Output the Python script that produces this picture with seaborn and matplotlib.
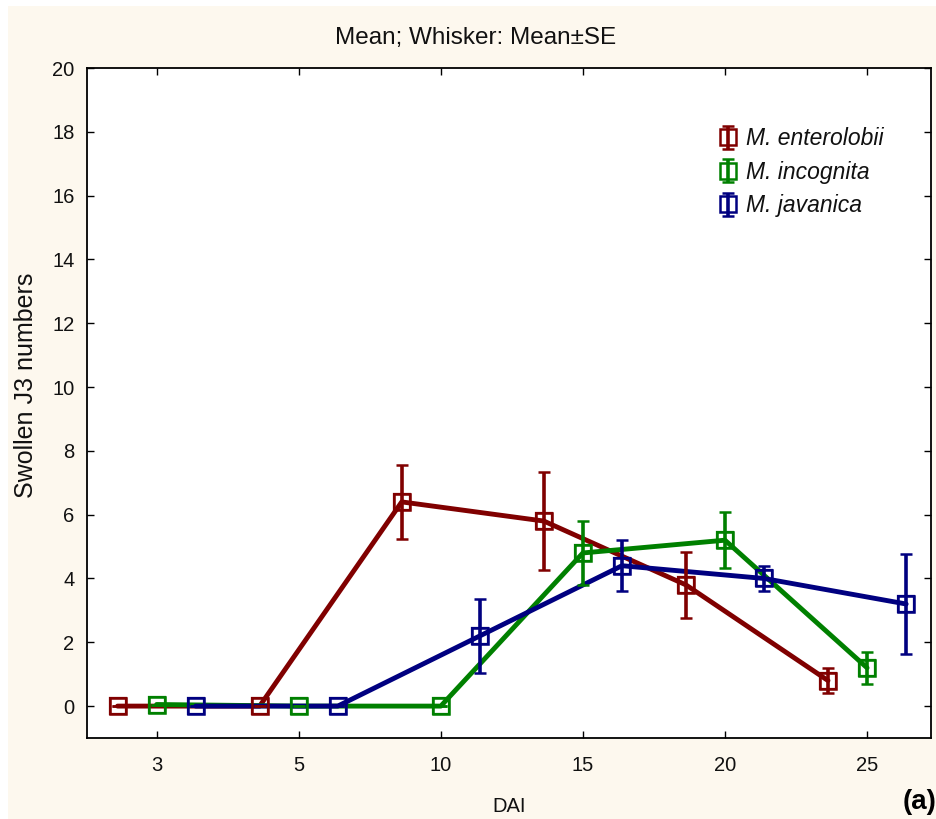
import numpy as np
import pandas as pd
import matplotlib
matplotlib.use("Agg")
import matplotlib.pyplot as plt
from matplotlib.patches import Rectangle
import seaborn as sns

# Days after inoculation (categorical x) and species
dai = ["3", "5", "10", "15", "20", "25"]
species = ["M. enterolobii", "M. incognita", "M. javanica"]

# Mean swollen J3 counts per species
mean_enterolobii = [0.0, 0.0, 6.4, 5.8, 3.8, 0.8]
mean_incognita = [0.05, 0.0, 0.0, 4.8, 5.2, 1.2]
mean_javanica = [0.0, 0.0, 2.2, 4.4, 4.0, 3.2]

# Standard errors per species
se_enterolobii = [0.0, 0.0, 1.17, 1.53, 1.03, 0.4]
se_incognita = [0.0, 0.0, 0.0, 1.0, 0.87, 0.5]
se_javanica = [0.0, 0.0, 1.17, 0.8, 0.4, 1.58]

colors = ["#800000", "#008000", "#000080"]

means = [mean_enterolobii, mean_incognita, mean_javanica]
ses = [se_enterolobii, se_incognita, se_javanica]
df = pd.DataFrame({
    "DAI": np.tile(dai, len(species)),
    "species": np.repeat(species, len(dai)),
    "mean": np.concatenate(means),
    "se": np.concatenate(ses),
})

sns.set_theme(style="white")
plt.rcParams["font.family"] = ["Liberation Sans", "DejaVu Sans"]

fig = plt.figure(figsize=(9.37, 8.19), dpi=100)
fig.patch.set_facecolor("white")
fig.add_artist(Rectangle((8 / 937, 0), 1, 1 - 6 / 819, transform=fig.transFigure,
                         facecolor="#fdf8ee", edgecolor="none", zorder=-10))

ax = fig.add_axes([87 / 937, 1 - 738 / 819, (931 - 87) / 937, (738 - 68) / 819])
ax.set_facecolor("white")

sns.pointplot(data=df, x="DAI", y="mean", hue="species", order=dai,
              hue_order=species, palette=colors, dodge=0.55, errorbar=None,
              markers="s", linestyles="-", legend=False, ax=ax,
              markerfacecolor="none", markersize=11.5, markeredgewidth=1.6,
              linewidth=3.5)

# whiskers at the same dodged positions as the point markers
for line, name, color, se in zip(ax.lines[:3], species, colors, ses):
    x, y = line.get_xdata(), line.get_ydata()
    ax.errorbar(x, y, yerr=se, fmt="s", mfc="none", mec=color, mew=1.8,
                ms=11.5, ecolor=color, elinewidth=2.6, capsize=4, capthick=2.6,
                label=name, zorder=line.get_zorder())

ax.set_xlim(-0.49, 5.45)
ax.set_ylim(-1, 20)
ax.set_yticks(np.arange(0, 21, 2))

for s in ax.spines.values():
    s.set_color("black")
    s.set_linewidth(1.3)
ax.tick_params(direction="in", length=5, width=1, color="black",
               top=True, right=True, left=True, bottom=True,
               labelsize=14.5, labelcolor="#111111")
ax.tick_params(axis="x", pad=13)
ax.tick_params(axis="y", pad=9)

ax.set_xlabel("DAI", fontsize=14.5, color="#111111")
ax.xaxis.set_label_coords(0.5, -(807 - 738) / (738 - 68))
ax.xaxis.label.set_va("center")
ax.set_ylabel("Swollen J3 numbers", fontsize=18, color="#111111")
ax.yaxis.set_label_coords(-(87 - 38) / (931 - 87), (738 - 385) / (738 - 68))

fig.text(476 / 937, 1 - 38 / 819, "Mean; Whisker: Mean\u00b1SE", ha="center",
         va="center", fontsize=17.5, color="#111111")
fig.text(937 / 937, 1 - 802 / 819, "(a)", ha="right", va="center",
         fontsize=20, fontweight="bold", color="black")

leg = ax.legend(loc="upper left", bbox_to_anchor=(707 / 937, 1 - 116 / 819),
                bbox_transform=fig.transFigure, frameon=False,
                handlelength=0.8, handletextpad=0.4, borderpad=0,
                labelspacing=0.45, prop={"style": "italic", "size": 16.5})
for t in leg.get_texts():
    t.set_color("#111111")

fig.savefig("out.png", dpi=100, facecolor=fig.get_facecolor())
